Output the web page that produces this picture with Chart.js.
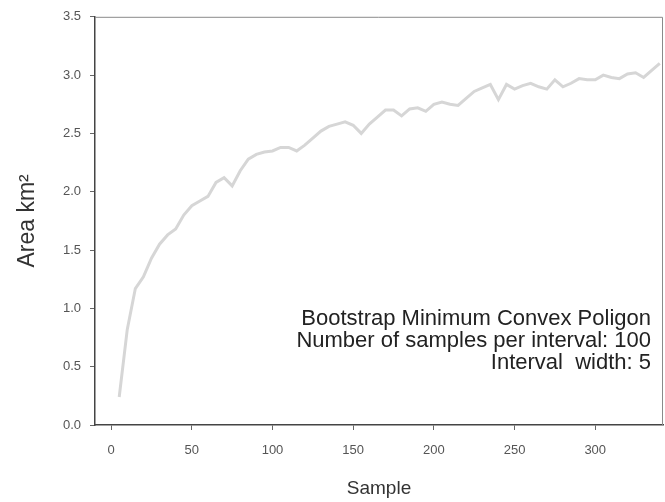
<!DOCTYPE html>
<html>
<head>
<meta charset="utf-8">
<script src="https://cdn.jsdelivr.net/npm/chart.js@4"></script>
<style>
  html, body { margin: 0; padding: 0; background: #fff; }
  #wrap { width: 665px; height: 502px; }
</style>
</head>
<body>
<div id="wrap"><canvas id="c" width="665" height="502"></canvas></div>
<script>
const samples = [5,10,15,20,25,30,35,40,45,50,55,60,65,70,75,80,85,90,95,100,105,110,115,120,125,130,135,140,145,150,155,160,165,170,175,180,185,190,195,200,205,210,215,220,225,230,235,240,245,250,255,260,265,270,275,280,285,290,295,300,305,310,315,320,325,330,335,340];
const areas = [0.24,0.82,1.17,1.27,1.43,1.55,1.63,1.68,1.80,1.88,1.92,1.96,2.08,2.12,2.05,2.18,2.28,2.32,2.34,2.35,2.38,2.38,2.35,2.40,2.46,2.52,2.56,2.58,2.60,2.57,2.50,2.58,2.64,2.70,2.70,2.65,2.71,2.72,2.69,2.75,2.77,2.75,2.74,2.80,2.86,2.89,2.92,2.79,2.92,2.88,2.91,2.93,2.90,2.88,2.96,2.90,2.93,2.97,2.96,2.96,3.00,2.98,2.97,3.01,3.02,2.98,3.04,3.10];
const xTicks = [0,50,100,150,200,250,300];
const yTicks = [0,0.5,1,1.5,2,2.5,3,3.5];
const noteLines = ["Bootstrap Minimum Convex Poligon", "Number of samples per interval: 100", "Interval  width: 5"];

const FONT = "'Liberation Sans', Arial, sans-serif";

const framePlugin = {
  id: 'frame',
  afterDraw(chart) {
    const {ctx, chartArea: a} = chart;
    ctx.save();
    ctx.strokeStyle = '#8a8a8a';
    ctx.lineWidth = 1;
    ctx.beginPath();
    ctx.moveTo(a.left, a.top + 0.5);
    ctx.lineTo(a.right - 0.5, a.top + 0.5);
    ctx.lineTo(a.right - 0.5, a.bottom);
    ctx.stroke();
    ctx.fillStyle = '#222';
    ctx.font = "22px " + FONT;
    ctx.textAlign = 'right';
    ctx.textBaseline = 'alphabetic';
    const x = a.right - 12;
    noteLines.forEach((t, i) => ctx.fillText(t, x, 325 + i * 22));
    ctx.restore();
  }
};

new Chart(document.getElementById('c'), {
  type: 'line',
  data: {
    datasets: [{
      data: samples.map((s, i) => ({x: s, y: areas[i]})),
      borderColor: '#d6d6d6',
      borderWidth: 3,
      pointRadius: 0,
      tension: 0,
      fill: false
    }]
  },
  options: {
    responsive: false,
    animation: false,
    layout: { padding: { top: 15, right: 2, left: 0, bottom: 0 } },
    plugins: { legend: { display: false }, tooltip: { enabled: false } },
    scales: {
      x: {
        type: 'linear',
        min: -10,
        max: 342,
        afterBuildTicks(scale) { scale.ticks = xTicks.map(v => ({value: v})); },
        afterFit(scale) { scale.height = 77; },
        grid: { display: true, drawOnChartArea: false, drawTicks: true, tickLength: 5, color: '#666', lineWidth: 1 },
        border: { display: true, color: '#444', width: 1.5 },
        ticks: { color: '#555', font: { family: FONT, size: 13 }, padding: 13, maxRotation: 0, autoSkip: false },
        title: { display: true, text: 'Sample', color: '#333', font: { family: FONT, size: 19 }, padding: { top: 0, bottom: 2 } }
      },
      y: {
        type: 'linear',
        min: 0,
        max: 3.5,
        afterBuildTicks(scale) { scale.ticks = yTicks.map(v => ({value: v})); },
        afterFit(scale) { scale.width = 95; },
        grid: { display: true, drawOnChartArea: false, drawTicks: true, tickLength: 5, color: '#666', lineWidth: 1 },
        border: { display: true, color: '#444', width: 1.5 },
        ticks: { color: '#555', font: { family: FONT, size: 13 }, padding: 9, callback: v => Number(v).toFixed(1) },
        title: { display: true, text: 'Area km²', color: '#333', font: { family: FONT, size: 23 }, padding: { top: 14, bottom: 0 } }
      }
    }
  },
  plugins: [framePlugin]
});
</script>
</body>
</html>
